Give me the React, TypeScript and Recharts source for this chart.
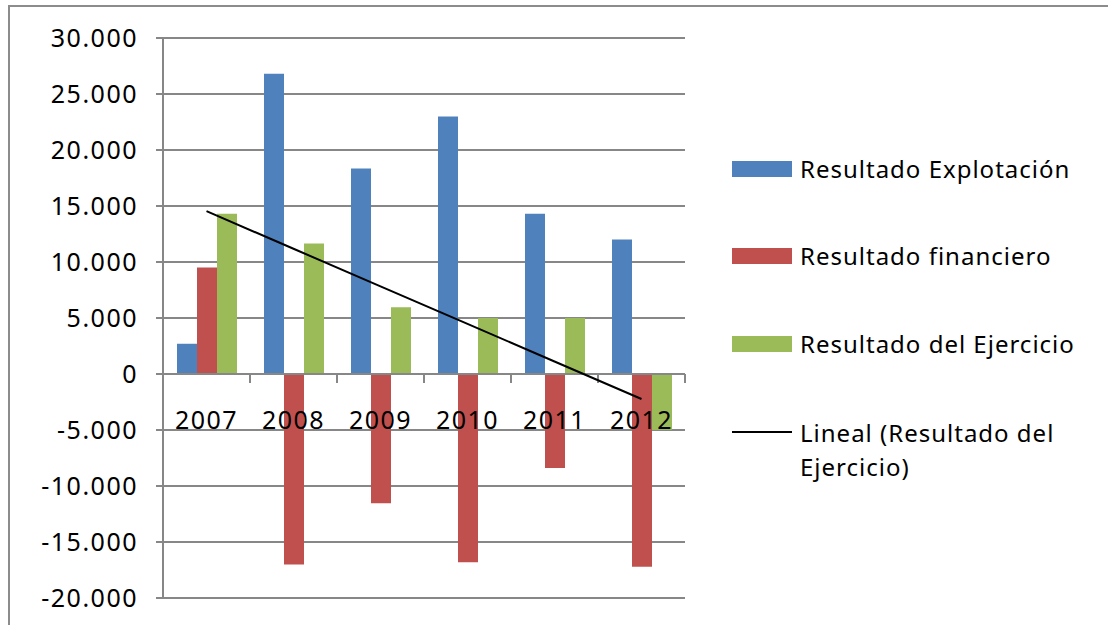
import React from 'react'
import { ComposedChart, Bar, Line, XAxis, YAxis, CartesianGrid, ReferenceLine } from 'recharts'

const YEARS = ['2007', '2008', '2009', '2010', '2011', '2012']
const EXPLOTACION = [2700, 26800, 18350, 23000, 14300, 12000]
const FINANCIERO = [9500, -17000, -11550, -16800, -8400, -17200]
const EJERCICIO = [14300, 11650, 5950, 5000, 5000, -5000]
const Y_TICKS = [-20000, -15000, -10000, -5000, 0, 5000, 10000, 15000, 20000, 25000, 30000]

const BLUE = '#4f81bd'
const RED = '#c0504d'
const GREEN = '#9bbb59'
const GRID = '#878787'
const FONT = '"Noto Sans", "Open Sans", sans-serif'

const W = 1108
const H = 625
const MARGIN = { top: 38, right: 423, bottom: 0, left: 0 }
const X_AXIS_H = 27
const Y_AXIS_W = 163
const Y_MIN = -20000
const Y_MAX = 30000
const PLOT_H = H - MARGIN.top - MARGIN.bottom - X_AXIS_H
const ZERO_Y = MARGIN.top + (PLOT_H * Y_MAX) / (Y_MAX - Y_MIN)

// least-squares trend of "Resultado del Ejercicio"
const n = EJERCICIO.length
const meanX = (n + 1) / 2
const meanY = EJERCICIO.reduce((s, v) => s + v, 0) / n
const slope =
  EJERCICIO.reduce((s, v, i) => s + (i + 1 - meanX) * (v - meanY), 0) /
  EJERCICIO.reduce((s, _, i) => s + (i + 1 - meanX) ** 2, 0)

const data = YEARS.map((year, i) => ({
  year,
  explotacion: EXPLOTACION[i],
  financiero: FINANCIERO[i],
  ejercicio: EJERCICIO[i],
  trend: meanY + slope * (i + 1 - meanX),
}))

const fmt = (v: number) => {
  const s = Math.abs(v).toString().replace(/\B(?=(\d{3})+(?!\d))/g, '.')
  return v < 0 ? '-' + s : s
}

// category labels sit just under the zero line
const YearTick = (props: any) => (
  <text
    x={props.x}
    y={ZERO_Y + 55}
    textAnchor="middle"
    fontSize={25}
    fontFamily={FONT}
    fill="#000"
    style={{ letterSpacing: 1.5 }}
  >
    {props.payload.value}
  </text>
)

// zero axis line with tick marks between categories
const ZeroAxis = (props: any) => {
  const { x1, x2, y1 } = props
  const step = (x2 - x1) / YEARS.length
  return (
    <g>
      <line x1={x1} x2={x2} y1={y1} y2={y1} stroke={GRID} strokeWidth={2} />
      {Array.from({ length: YEARS.length + 1 }, (_, i) => (
        <line key={i} x1={x1 + i * step} x2={x1 + i * step} y1={y1} y2={y1 + 9} stroke={GRID} strokeWidth={2} />
      ))}
    </g>
  )
}

const legendRow: React.CSSProperties = {
  position: 'absolute',
  left: 732,
  display: 'flex',
  alignItems: 'center',
  fontFamily: FONT,
  fontSize: 24,
  letterSpacing: 1,
  color: '#000',
  lineHeight: '34px',
  whiteSpace: 'nowrap',
}

const LegendItem = ({ top, color, label }: { top: number; color: string; label: string }) => (
  <div style={{ ...legendRow, top: top - 17 }}>
    <div style={{ width: 60, height: 16, background: color, marginRight: 8 }} />
    <span>{label}</span>
  </div>
)

export default function App() {
  return (
    <div style={{ position: 'fixed', left: 0, top: 0, width: W, height: H, overflow: 'hidden', background: '#fff' }}>
      <div
        style={{
          position: 'absolute',
          left: 8,
          top: 5,
          width: W + 40,
          height: H + 40,
          border: '2px solid #8c8c8c',
        }}
      />
      <div style={{ position: 'absolute', left: 0, top: 0 }}>
        <ComposedChart width={W} height={H} data={data} margin={MARGIN} barGap={0} barSize={20}>
          <CartesianGrid vertical={false} stroke={GRID} strokeWidth={2} />
          <XAxis
            dataKey="year"
            height={X_AXIS_H}
            axisLine={false}
            tickLine={false}
            tick={<YearTick />}
            interval={0}
          />
          <YAxis
            width={Y_AXIS_W}
            domain={[Y_MIN, Y_MAX]}
            ticks={Y_TICKS}
            interval={0}
            tickFormatter={fmt}
            stroke={GRID}
            strokeWidth={2}
            tickSize={7}
            tickMargin={18}
            tick={{ fontSize: 25, fontFamily: FONT, fill: '#000', style: { letterSpacing: 1.5 } }}
          />
          <Bar dataKey="explotacion" fill={BLUE} isAnimationActive={false} />
          <Bar dataKey="financiero" fill={RED} isAnimationActive={false} />
          <Bar dataKey="ejercicio" fill={GREEN} isAnimationActive={false} />
          <ReferenceLine y={0} shape={<ZeroAxis />} />
          <Line
            dataKey="trend"
            type="linear"
            stroke="#000"
            strokeWidth={2}
            dot={false}
            isAnimationActive={false}
          />
        </ComposedChart>
      </div>
      <LegendItem top={169} color={BLUE} label="Resultado Explotación" />
      <LegendItem top={256} color={RED} label="Resultado financiero" />
      <LegendItem top={344} color={GREEN} label="Resultado del Ejercicio" />
      <div style={{ ...legendRow, top: 416, alignItems: 'flex-start' }}>
        <div style={{ width: 60, height: 2, background: '#000', marginTop: 15, marginRight: 8 }} />
        <span>
          Lineal (Resultado del
          <br />
          Ejercicio)
        </span>
      </div>
    </div>
  )
}
